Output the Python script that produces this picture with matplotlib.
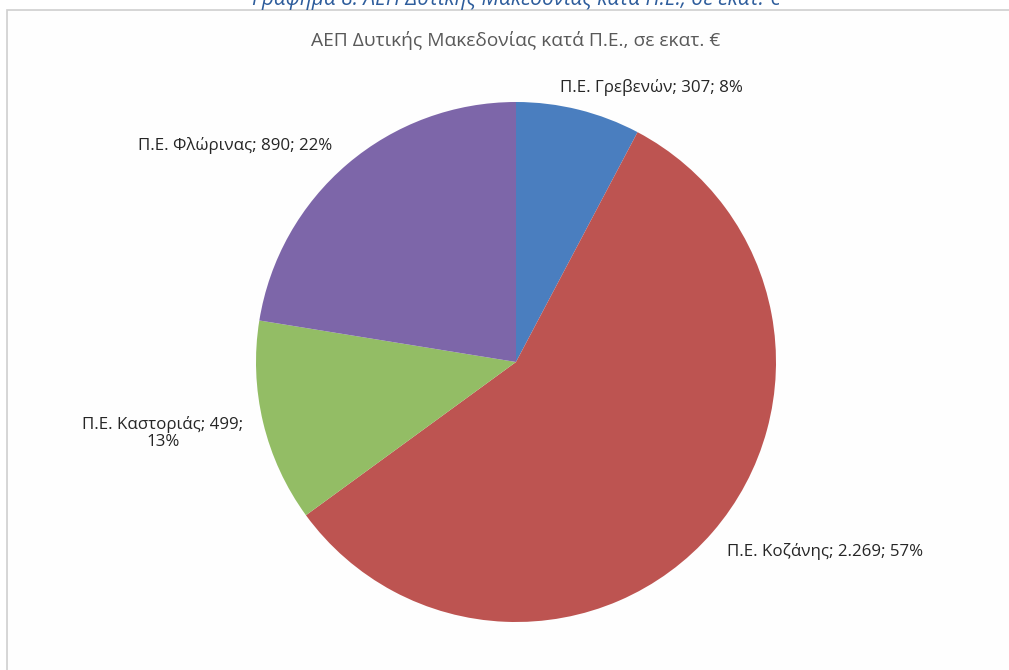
#!/usr/bin/env python3
"""ΑΕΠ Δυτικής Μακεδονίας κατά Π.Ε. - pie chart recreation."""

import matplotlib
matplotlib.use("Agg")
import matplotlib.pyplot as plt
from matplotlib.patches import Rectangle

plt.rcParams["font.family"] = ["Open Sans", "DejaVu Sans"]

REGIONS = ["Π.Ε. Γρεβενών", "Π.Ε. Κοζάνης", "Π.Ε. Καστοριάς", "Π.Ε. Φλώρινας"]
VALUES = [307, 2269, 499, 890]
VALUE_LABELS = ["307", "2.269", "499", "890"]
COLORS = ["#4a7ebf", "#bd5451", "#93bd65", "#7d66a9"]

TITLE = "ΑΕΠ Δυτικής Μακεδονίας κατά Π.Ε., σε εκατ. €"
CAPTION = "Γράφημα 8: ΑΕΠ Δυτικής Μακεδονίας κατά Π.Ε., σε εκατ. €"

W, H = 1009, 670


def main() -> None:
    fig = plt.figure(figsize=(W / 100, H / 100), dpi=100)
    fig.patch.set_facecolor("white")
    ax = fig.add_axes([0, 0, 1, 1])

    # chart frame
    ax.add_patch(Rectangle((6.5, -5), W, H - 9.5 + 5, facecolor="#fefefe",
                           edgecolor="#cfcfcf", linewidth=1.2, zorder=0))

    # caption above the frame, clipped by the top edge as in the source
    ax.text(516, H - 5, CAPTION, ha="center", va="baseline", fontsize=15,
            style="italic", color="#2e5d9c", zorder=1)

    ax.text(516, H - 41, TITLE, ha="center", va="center", fontsize=13.8,
            color="#595959")

    ax.pie(VALUES, colors=COLORS, startangle=90, counterclock=False,
           center=(516, H - 362), radius=260, frame=True,
           wedgeprops=dict(linewidth=0))
    ax.set_xlim(0, W)
    ax.set_ylim(0, H)
    ax.set_aspect("equal")
    ax.axis("off")

    total = sum(VALUES)
    pcts = [round(v / total * 100) for v in VALUES]
    texts = [f"{r}; {vl}; {p}%" for r, vl, p in zip(REGIONS, VALUE_LABELS, pcts)]
    texts[2] = f"{REGIONS[2]}; {VALUE_LABELS[2]};\n{pcts[2]}%"

    label_pos = [(651, H - 88), (825, H - 551), (163, H - 433), (235, H - 145)]
    for t, (x, y) in zip(texts, label_pos):
        ax.text(x, y, t, ha="center", va="center", fontsize=12.2,
                color="#262626", linespacing=1.05)

    fig.savefig("out.png", dpi=100, facecolor="white")


if __name__ == "__main__":
    main()
